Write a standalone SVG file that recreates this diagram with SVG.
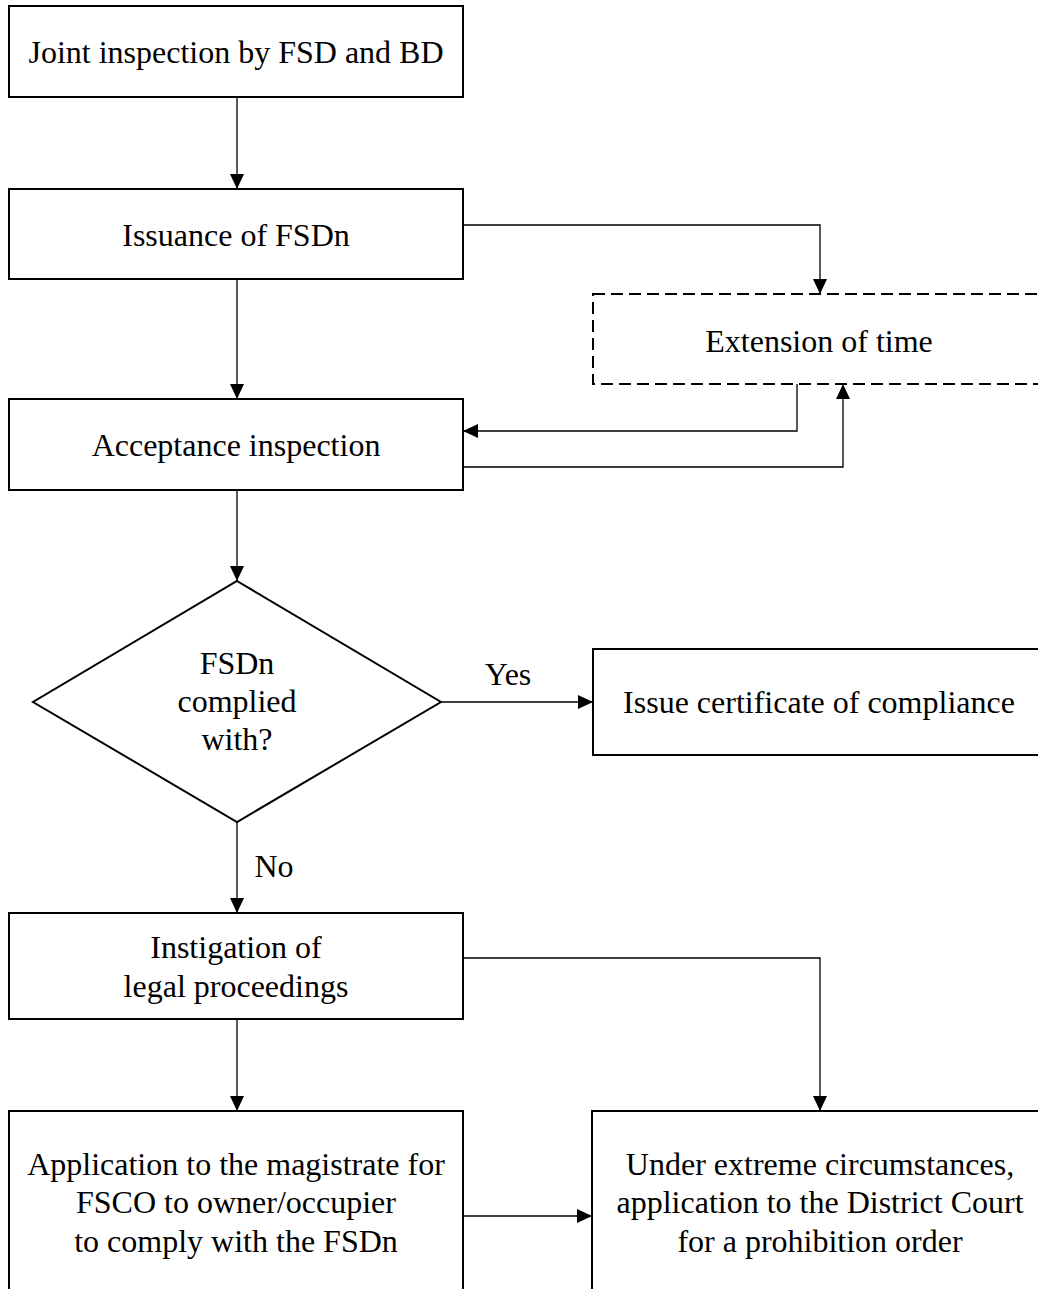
<svg xmlns="http://www.w3.org/2000/svg" width="1038" height="1289" viewBox="0 0 1038 1289">
<style>
.box{fill:#fff;stroke:#000;stroke-width:2}
.dash{fill:#fff;stroke:#000;stroke-width:2;stroke-dasharray:12 6}
.t{font-family:"Liberation Serif","Times New Roman",serif;font-size:32px;fill:#000;text-anchor:middle}
.c{fill:none;stroke:#000;stroke-width:1.3}
</style>
<defs>
<marker id="ah" markerUnits="userSpaceOnUse" markerWidth="15" markerHeight="14" refX="15" refY="7" orient="auto">
<path d="M0,0 L15,7 L0,14 z" fill="#000"/>
</marker>
</defs>
<rect width="1038" height="1289" fill="#fff"/>
<g id="connectors">
<path class="c" d="M237,97 V189" marker-end="url(#ah)"/>
<path class="c" d="M237,279 V399" marker-end="url(#ah)"/>
<path class="c" d="M463,225 H820 V294" marker-end="url(#ah)"/>
<path class="c" d="M797,384 V431 H463" marker-end="url(#ah)"/>
<path class="c" d="M463,467 H843 V384" marker-end="url(#ah)"/>
<path class="c" d="M237,490 V581" marker-end="url(#ah)"/>
<path class="c" d="M441,702 H593" marker-end="url(#ah)"/>
<path class="c" d="M237,822 V913" marker-end="url(#ah)"/>
<path class="c" d="M463,958 H820 V1111" marker-end="url(#ah)"/>
<path class="c" d="M237,1019 V1111" marker-end="url(#ah)"/>
<path class="c" d="M463,1216 H592" marker-end="url(#ah)"/>
<text class="t" x="508" y="685">Yes</text>
<text class="t" x="274" y="877">No</text>
</g>
<g id="joint">
<rect class="box" x="9" y="6" width="454" height="91"/>
<text class="t" x="236" y="63">Joint inspection by FSD and BD</text>
</g>
<g id="issuance">
<rect class="box" x="9" y="189" width="454" height="90"/>
<text class="t" x="236" y="246">Issuance of FSDn</text>
</g>
<g id="extension">
<rect class="dash" x="593" y="294" width="460" height="90"/>
<text class="t" x="819" y="352">Extension of time</text>
</g>
<g id="acceptance">
<rect class="box" x="9" y="399" width="454" height="91"/>
<text class="t" x="236" y="456">Acceptance inspection</text>
</g>
<g id="decision">
<polygon class="box" points="237,581 441,702 237,822 33,702"/>
<text class="t" x="237" y="674">FSDn</text>
<text class="t" x="237" y="712">complied</text>
<text class="t" x="237" y="750">with?</text>
</g>
<g id="certificate">
<rect class="box" x="593" y="649" width="460" height="106"/>
<text class="t" x="819" y="713">Issue certificate of compliance</text>
</g>
<g id="instigation">
<rect class="box" x="9" y="913" width="454" height="106"/>
<text class="t" x="236" y="958">Instigation of</text>
<text class="t" x="236" y="997">legal proceedings</text>
</g>
<g id="magistrate">
<rect class="box" x="9" y="1111" width="454" height="200"/>
<text class="t" x="236" y="1175">Application to the magistrate for</text>
<text class="t" x="236" y="1213">FSCO to owner/occupier</text>
<text class="t" x="236" y="1252">to comply with the FSDn</text>
</g>
<g id="district">
<rect class="box" x="592" y="1111" width="461" height="200"/>
<text class="t" x="820" y="1175">Under extreme circumstances,</text>
<text class="t" x="820" y="1213">application to the District Court</text>
<text class="t" x="820" y="1252">for a prohibition order</text>
</g>
</svg>
